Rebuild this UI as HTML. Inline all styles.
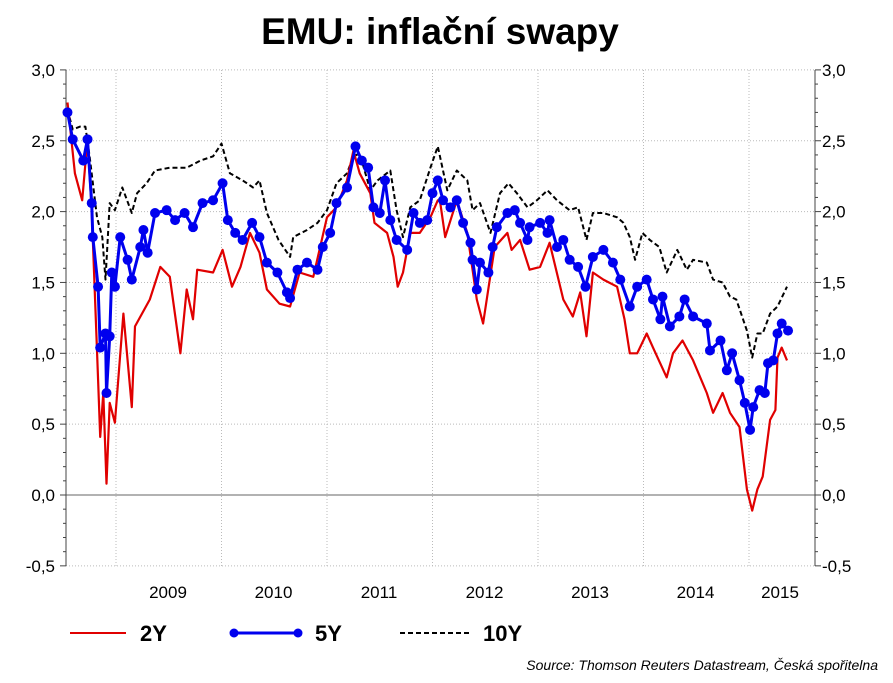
<!DOCTYPE html>
<html><head><meta charset="utf-8">
<style>
html,body{margin:0;padding:0;background:#fff;}
svg{display:block;font-family:"Liberation Sans",Arial,sans-serif;}
</style></head>
<body>
<svg id="chart" width="893" height="683" viewBox="0 0 893 683" xmlns="http://www.w3.org/2000/svg">
<text x="440" y="44" text-anchor="middle" font-size="37" font-weight="bold" fill="#000">EMU: inflační swapy</text>
<g id="grid"></g>
<g id="axes"></g>
<g id="series"></g>
<g id="legend">
  <line x1="70" y1="633" x2="126" y2="633" stroke="#e00000" stroke-width="2"/>
  <text x="140" y="641" font-size="22" font-weight="bold">2Y</text>
  <line x1="232" y1="633" x2="300" y2="633" stroke="#0000ee" stroke-width="3"/>
  <circle cx="234" cy="633" r="4.5" fill="#0000ee"/>
  <circle cx="298" cy="633" r="4.5" fill="#0000ee"/>
  <text x="315" y="641" font-size="22" font-weight="bold">5Y</text>
  <line x1="400" y1="633" x2="470" y2="633" stroke="#000" stroke-width="2" stroke-dasharray="5,3"/>
  <text x="483" y="641" font-size="22" font-weight="bold">10Y</text>
</g>
<text x="878" y="670" text-anchor="end" font-size="14" font-style="italic">Source: Thomson Reuters Datastream, Česká spořitelna</text>
</svg>
<script>
const yTickLabels = ["3,0","2,5","2,0","1,5","1,0","0,5","0,0","-0,5"];
const yTickValues = [3,2.5,2,1.5,1,0.5,0,-0.5];
const yearLabels = ["2009","2010","2011","2012","2013","2014","2015"];
const yearBoundaries = [2009,2010,2011,2012,2013,2014,2015];

const dates2Y = [2008.54,2008.61,2008.68,2008.73,2008.77,2008.82,2008.85,2008.88,2008.91,2008.94,2008.99,2009.07,2009.15,2009.18,2009.32,2009.42,2009.51,2009.61,2009.67,2009.73,2009.77,2009.92,2010.01,2010.10,2010.18,2010.27,2010.36,2010.43,2010.55,2010.65,2010.74,2010.87,2011.00,2011.09,2011.19,2011.25,2011.31,2011.41,2011.45,2011.57,2011.63,2011.67,2011.72,2011.79,2011.88,2011.98,2012.05,2012.07,2012.12,2012.23,2012.33,2012.42,2012.48,2012.59,2012.71,2012.75,2012.83,2012.92,2013.02,2013.11,2013.24,2013.33,2013.40,2013.46,2013.52,2013.62,2013.75,2013.82,2013.87,2013.94,2014.03,2014.09,2014.22,2014.28,2014.37,2014.47,2014.60,2014.66,2014.75,2014.82,2014.91,2014.98,2015.03,2015.08,2015.13,2015.20,2015.25,2015.27,2015.31,2015.36];
const values2Y = [2.77,2.27,2.08,2.51,2.01,1.02,0.41,0.72,0.08,0.65,0.51,1.28,0.62,1.19,1.38,1.61,1.54,1.00,1.45,1.24,1.59,1.57,1.73,1.47,1.61,1.85,1.71,1.45,1.35,1.33,1.57,1.54,1.96,2.03,2.22,2.43,2.27,2.13,1.92,1.85,1.68,1.47,1.57,1.85,1.85,1.96,2.08,2.08,1.82,2.08,1.85,1.38,1.21,1.75,1.85,1.73,1.80,1.59,1.61,1.78,1.38,1.26,1.43,1.12,1.57,1.52,1.47,1.24,1.00,1.00,1.14,1.04,0.83,1.00,1.09,0.95,0.72,0.58,0.72,0.58,0.48,0.04,-0.11,0.04,0.13,0.53,0.60,0.97,1.04,0.95];

const dates5Y = [2008.54,2008.59,2008.69,2008.73,2008.77,2008.78,2008.83,2008.85,2008.90,2008.91,2008.94,2008.96,2008.99,2009.04,2009.11,2009.15,2009.23,2009.26,2009.30,2009.37,2009.48,2009.56,2009.65,2009.73,2009.82,2009.92,2010.01,2010.06,2010.13,2010.20,2010.29,2010.36,2010.43,2010.53,2010.62,2010.65,2010.72,2010.81,2010.91,2010.96,2011.03,2011.09,2011.19,2011.27,2011.33,2011.39,2011.44,2011.50,2011.55,2011.60,2011.66,2011.76,2011.82,2011.88,2011.95,2012.00,2012.05,2012.10,2012.17,2012.23,2012.29,2012.36,2012.38,2012.42,2012.45,2012.53,2012.57,2012.61,2012.71,2012.78,2012.83,2012.90,2012.92,2013.02,2013.09,2013.11,2013.18,2013.24,2013.30,2013.38,2013.45,2013.52,2013.62,2013.71,2013.78,2013.87,2013.94,2014.03,2014.09,2014.16,2014.18,2014.25,2014.34,2014.39,2014.47,2014.60,2014.63,2014.73,2014.79,2014.84,2014.91,2014.96,2015.01,2015.04,2015.10,2015.15,2015.18,2015.23,2015.27,2015.31,2015.37];
const values5Y = [2.70,2.51,2.36,2.51,2.06,1.82,1.47,1.04,1.14,0.72,1.12,1.57,1.47,1.82,1.66,1.52,1.75,1.87,1.71,1.99,2.01,1.94,1.99,1.89,2.06,2.08,2.20,1.94,1.85,1.80,1.92,1.82,1.64,1.57,1.43,1.39,1.59,1.64,1.59,1.75,1.85,2.06,2.17,2.46,2.36,2.31,2.03,1.99,2.22,1.94,1.80,1.73,1.99,1.92,1.94,2.13,2.22,2.08,2.03,2.08,1.92,1.78,1.66,1.45,1.64,1.57,1.75,1.89,1.99,2.01,1.92,1.80,1.89,1.92,1.85,1.94,1.75,1.80,1.66,1.61,1.47,1.68,1.73,1.64,1.52,1.33,1.47,1.52,1.38,1.24,1.40,1.19,1.26,1.38,1.26,1.21,1.02,1.09,0.88,1.00,0.81,0.65,0.46,0.62,0.74,0.72,0.93,0.95,1.14,1.21,1.16];

const dates10Y = [2008.54,2008.59,2008.66,2008.71,2008.75,2008.82,2008.87,2008.90,2008.94,2008.99,2009.06,2009.15,2009.20,2009.29,2009.37,2009.51,2009.67,2009.80,2009.92,2010.00,2010.08,2010.20,2010.30,2010.36,2010.43,2010.54,2010.65,2010.68,2010.81,2010.91,2011.00,2011.09,2011.19,2011.25,2011.31,2011.41,2011.48,2011.60,2011.66,2011.72,2011.79,2011.88,2011.98,2012.05,2012.14,2012.23,2012.33,2012.38,2012.45,2012.55,2012.64,2012.72,2012.80,2012.90,2012.99,2013.09,2013.18,2013.30,2013.38,2013.46,2013.52,2013.62,2013.75,2013.81,2013.87,2013.92,2013.99,2014.06,2014.15,2014.22,2014.32,2014.41,2014.47,2014.60,2014.66,2014.75,2014.82,2014.88,2014.98,2015.03,2015.08,2015.13,2015.20,2015.27,2015.36];
const values10Y = [2.72,2.58,2.60,2.60,2.39,1.96,1.82,1.52,2.06,2.01,2.17,1.99,2.13,2.20,2.29,2.31,2.31,2.36,2.39,2.48,2.27,2.22,2.17,2.22,1.99,1.80,1.68,1.82,1.87,1.92,2.01,2.20,2.27,2.39,2.41,2.15,2.22,2.29,2.01,1.82,2.03,2.08,2.31,2.46,2.15,2.29,2.22,2.01,2.06,1.85,2.13,2.20,2.13,2.03,2.08,2.15,2.08,2.01,2.03,1.80,1.99,1.99,1.96,1.92,1.82,1.66,1.85,1.80,1.75,1.57,1.73,1.59,1.66,1.64,1.52,1.50,1.40,1.38,1.16,0.97,1.14,1.14,1.28,1.33,1.47];

const NS = "http://www.w3.org/2000/svg";
const L = 66, R = 815, T = 70, B = 566;
function xS(yr){ return 116 + (yr - 2009) * 105.5; }
function yS(v){ return 495 - v * 141.7; }
function mk(tag, attrs, parent){ const e = document.createElementNS(NS, tag); for (const k in attrs) e.setAttribute(k, attrs[k]); parent.appendChild(e); return e; }

const grid = document.getElementById('grid');
const axes = document.getElementById('axes');
const series = document.getElementById('series');

yTickValues.forEach((v, i) => {
  const y = yS(v);
  const g = mk('line', {x1:L, x2:R, y1:y, y2:y, stroke: v === 0 ? '#999' : '#bbb', 'stroke-width': v === 0 ? 1.5 : 1, 'stroke-dasharray': v === 0 ? 'none' : '1,2'}, grid);
  
  
  const tl = mk('text', {x:55, y:y+6, 'text-anchor':'end', 'font-size':17}, axes);
  tl.textContent = yTickLabels[i];
  
  
  const tr = mk('text', {x:822, y:y+6, 'text-anchor':'start', 'font-size':17}, axes);
  tr.textContent = yTickLabels[i];
  
  
});
for (let k = -5; k <= 30; k++) {
  const y = yS(k / 10);
  const len = (k % 5 === 0) ? 6 : 3;
  const t1 = mk('line', {x1:L-len, x2:L, y1:y, y2:y, stroke:'#444', 'stroke-width':1}, axes);
  
  
  const t2 = mk('line', {x1:R, x2:R+len, y1:y, y2:y, stroke:'#444', 'stroke-width':1}, axes);
  
  
}
yearBoundaries.forEach((yr) => {
  const x = xS(yr);
  const g = mk('line', {x1:x, x2:x, y1:T, y2:B, stroke:'#bbb', 'stroke-width':1, 'stroke-dasharray':'1,2'}, grid);
  
  
});
yearLabels.forEach((lab, i) => {
  const t = mk('text', {x: xS(yearBoundaries[i]) + (i === 6 ? 31 : 52), y:598, 'text-anchor':'middle', 'font-size':17}, axes);
  t.textContent = lab;
  
  
});
const bl = mk('line', {x1:L, x2:L, y1:T, y2:B, stroke:'#444', 'stroke-width':1}, axes);


const br = mk('line', {x1:R, x2:R, y1:T, y2:B, stroke:'#444', 'stroke-width':1}, axes);



function pts(d, v){ return d.map((x, i) => xS(x).toFixed(1) + ',' + yS(v[i]).toFixed(1)).join(' '); }

const p10 = mk('polyline', {points: pts(dates10Y, values10Y), fill:'none', stroke:'#000', 'stroke-width':2, 'stroke-dasharray':'5,3', 'stroke-linejoin':'round'}, series);


const p2 = mk('polyline', {points: pts(dates2Y, values2Y), fill:'none', stroke:'#e00000', 'stroke-width':2.2, 'stroke-linejoin':'round'}, series);


const p5 = mk('polyline', {points: pts(dates5Y, values5Y), fill:'none', stroke:'#0000ee', 'stroke-width':3, 'stroke-linejoin':'round'}, series);


dates5Y.forEach((d, i) => {
  const c = mk('circle', {cx: xS(d), cy: yS(values5Y[i]), r: 5, fill:'#0000ee'}, series);
  
  
});
</script>
</body></html>
